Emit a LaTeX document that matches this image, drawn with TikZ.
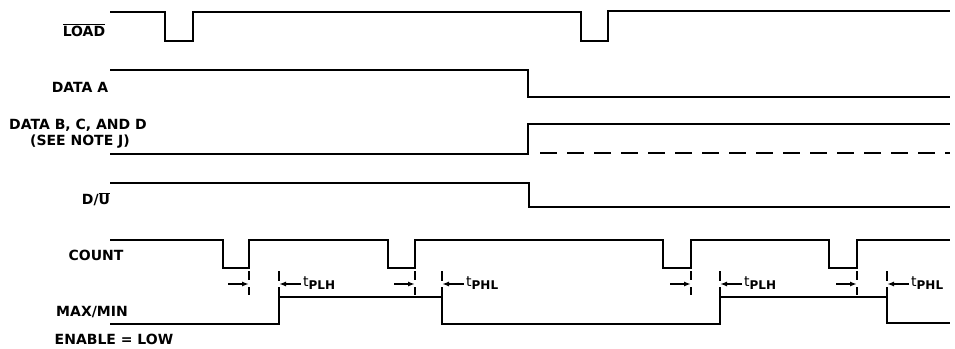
\documentclass[tikz,border=0pt]{standalone}
\usepackage{fontspec}
\setmainfont{DejaVu Sans}
\usetikzlibrary{arrows, arrows.meta}
\tikzset{
  sig/.style={line width=1.9pt, line join=miter},
  tickmark/.style={line width=1.1pt},
  dly/.style={-{Latex[length=7pt,width=5pt]}, line width=1.4pt},
  lbl/.style={font=\fontsize{14}{16}\selectfont\bfseries, inner sep=0pt, align=center},
  tlbl/.style={inner sep=0pt, anchor=west}
}
\newcommand{\tdelay}[1]{{\fontsize{14}{14}\selectfont t}\raisebox{-2.5pt}{\fontsize{12}{12}\selectfont\bfseries #1}}
\begin{document}
\begin{tikzpicture}[x=1pt, y=-1pt]
      \useasboundingbox (0,0) rectangle (955,348);

      % labels
      \node[lbl] (load) at (84,30) {$\overline{\mbox{\fontsize{14}{16}\selectfont\bfseries LOAD}}$};
      \node[lbl] (dataa) at (80,87) {DATA A};
      \node[lbl] (datab) at (78,125) {DATA B, C, AND D};
      \node[lbl] (note) at (80,142) {(SEE NOTE J)};
      \node[lbl] (du) at (96,199) {D/$\overline{\mbox{\fontsize{14}{16}\selectfont\bfseries U}}$};
      \node[lbl] (count) at (96,255) {COUNT};
      \node[lbl] (maxmin) at (92,312) {MAX/MIN};
      \node[lbl] (enable) at (114,339) {ENABLE = LOW};

      % waveforms
      \draw[sig] (110,12) -- (165,12) -- (165,41) -- (193,41) -- (193,12) -- (581,12) -- (581,41) -- (608,41) -- (608,11) -- (950,11);
      \draw[sig] (110,70) -- (528,70) -- (528,97) -- (950,97);
      \draw[sig] (110,154) -- (528,154) -- (528,124) -- (950,124);
      \draw[sig, dash pattern=on 17pt off 10pt] (540,153) -- (950,153);
      \draw[sig] (110,183) -- (529,183) -- (529,207) -- (950,207);
      \draw[sig] (110,240) -- (223,240) -- (223,268) -- (249,268) -- (249,240) -- (388,240) -- (388,268) -- (415,268) -- (415,240)
        -- (663,240) -- (663,268) -- (691,268) -- (691,240) -- (829,240) -- (829,268) -- (857,268) -- (857,240) -- (950,240);
      \draw[sig] (110,324) -- (279,324) -- (279,297) -- (442,297) -- (442,324) -- (720,324) -- (720,297) -- (887,297) -- (887,323) -- (950,323);

      % delay marks
      \foreach \c/\m/\t [count=\i] in {249/279/PLH, 415/442/PHL, 691/720/PLH, 857/887/PHL} {
        \draw[tickmark] (\c,271) -- (\c,280) (\c,287) -- (\c,295);
        \draw[tickmark] (\m,271) -- (\m,281) (\m,287) -- (\m,297);
        \coordinate (ca\i) at (\c-21,284);
        \coordinate (cb\i) at (\c,284);
        \coordinate (ma\i) at (\m+22,284);
        \coordinate (mb\i) at (\m,284);
        \draw[dly] (ca\i) -- (cb\i);
        \draw[dly] (ma\i) -- (mb\i);
        \node[tlbl] (td\i) at (\m+24,283) {\tdelay{\t}};
      }
    \end{tikzpicture}
\end{document}
